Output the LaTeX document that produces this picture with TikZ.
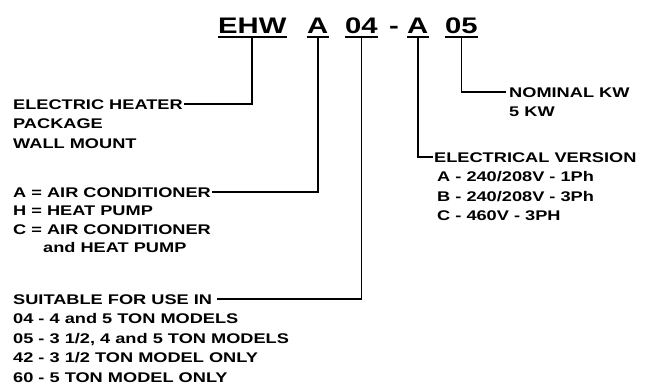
\documentclass[tikz,border=0pt]{standalone}
\usepackage{fontspec}
\setmainfont{Liberation Sans}[FakeStretch=1.3]
\begin{document}
\begin{tikzpicture}[x=1pt,y=-1pt,
  txt/.style={anchor=base west, inner sep=1pt, font=\bfseries\fontsize{14}{16}\selectfont},
  ttl/.style={anchor=base west, inner sep=0pt, font=\bfseries\fontsize{22.5}{26}\selectfont},
  conn/.style={line width=1.8pt},
  uline/.style={line width=2pt}]
\useasboundingbox (0,0) rectangle (646,388);
% title
\node[ttl] (ehw) at (218,33) {EHW};
\node[ttl] (ta) at (307,33) {A};
\node[ttl] (t04) at (345,33) {04};
\node[ttl] (dash) at (389,33) {-};
\node[ttl] (tb) at (407,33) {A};
\node[ttl] (t05) at (445,33) {05};
\foreach \n in {ehw,ta,t04,tb,t05}
  \draw[uline] ([yshift=-4pt]\n.base west) -- ([yshift=-4pt]\n.base east);
% left block 1
\node[txt] (elec) at (12,109) {ELECTRIC HEATER};
\node[txt] (pack) at (12,128) {PACKAGE};
\node[txt] (wall) at (12,148) {WALL MOUNT};
% left block 2
\node[txt] (ac) at (12,197) {A = AIR CONDITIONER};
\node[txt] (hp) at (12,215.5) {H = HEAT PUMP};
\node[txt] (cac) at (12,234) {C = AIR CONDITIONER};
\node[txt] (chp) at (42,252.5) {and HEAT PUMP};
% left block 3
\node[txt] (suit) at (12,304) {SUITABLE FOR USE IN};
\node[txt] (m04) at (12,323.5) {04 - 4 and 5 TON MODELS};
\node[txt] (m05) at (12,343) {05 - 3 1/2, 4 and 5 TON MODELS};
\node[txt] (m42) at (12,362.5) {42 - 3 1/2 TON MODEL ONLY};
\node[txt] (m60) at (12,382) {60 - 5 TON MODEL ONLY};
% right blocks
\node[txt] (nom) at (508,97) {NOMINAL KW};
\node[txt] (kw) at (508,116) {5 KW};
\node[txt] (ev) at (433,162) {ELECTRICAL VERSION};
\node[txt] (eva) at (436,181.5) {A - 240/208V - 1Ph};
\node[txt] (evb) at (436,201) {B - 240/208V - 3Ph};
\node[txt] (evc) at (436,220.5) {C - 460V - 3PH};
% connectors
\draw[conn] ([yshift=-4pt]ehw.base) |- (elec.east);
\draw[conn] ([yshift=-4pt]ta.base) |- (ac.east);
\draw[conn] ([yshift=-4pt]t04.base) |- ([xshift=4pt]suit.east);
\draw[conn] ([yshift=-4pt]tb.base) |- (ev.west);
\draw[conn] ([yshift=-4pt]t05.base) |- ([xshift=-2pt]nom.west);
\end{tikzpicture}
\end{document}
